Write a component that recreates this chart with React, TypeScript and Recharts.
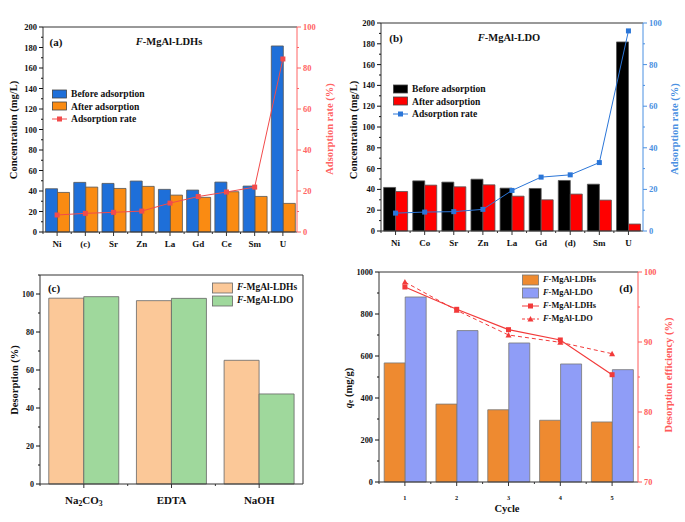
import {
  Bar,
  ComposedChart,
  Legend,
  Line,
  ReferenceLine,
  XAxis,
  YAxis,
} from "recharts";

const FONT = '"Liberation Serif", "Times New Roman", serif';

// (a) F-MgAl-LDHs
const elementsA = ["Ni", "(c)", "Sr", "Zn", "La", "Gd", "Ce", "Sm", "U"];
const ldhBefore = [42.2, 48.4, 47.4, 49.7, 41.6, 40.9, 48.7, 44.8, 181.5];
const ldhAfter = [38.6, 43.8, 42.5, 44.5, 36, 33.8, 39.3, 34.7, 27.9];
const ldhRate = [8.3, 9.1, 9.6, 10.2, 14.1, 17.3, 19.5, 21.9, 84.4];

// (b) F-MgAl-LDO
const elementsB = ["Ni", "Co", "Sr", "Zn", "La", "Gd", "(d)", "Sm", "U"];
const ldoBefore = [41.9, 48.2, 47, 49.8, 41.2, 40.9, 48.6, 45, 181.8];
const ldoAfter = [38, 44.1, 42.5, 44.4, 33.5, 30, 35.5, 29.7, 6.7];
const ldoRate = [8.6, 9.1, 9.3, 10.4, 19.5, 25.9, 27, 32.9, 96.2];

// (c) desorption agents
const agents = ["Na2CO3", "EDTA", "NaOH"];
const desLdh = [97.8, 96.5, 65.1];
const desLdo = [98.6, 97.7, 47.4];

// (d) cycles
const cycles = ["1", "2", "3", "4", "5"];
const qeLdh = [567, 371, 344, 294, 286];
const qeLdo = [881, 721, 662, 562, 535];
const effLdh = [97.86, 94.67, 91.76, 90.29, 85.33];
const effLdo = [98.57, 94.52, 91.0, 89.95, 88.33];

const ticksA = [0, 10, 20, 30, 40, 50, 60, 70, 80, 90, 100, 110, 120, 130, 140, 150, 160, 170, 180, 190, 200];
const ticksRate = [0, 10, 20, 30, 40, 50, 60, 70, 80, 90, 100];
const ticksC = [0, 10, 20, 30, 40, 50, 60, 70, 80, 90, 100, 110];
const ticksQe = [0, 100, 200, 300, 400, 500, 600, 700, 800, 900, 1000];
const ticksEff = [70, 75, 80, 85, 90, 95, 100];

const AXIS = "#333";

// numeric tick with major label + minor tick
const yTick =
  (side: "left" | "right", step: number, color: string, fs = 8.5) =>
  (p: any) => {
    const { x, y, payload } = p;
    const v = payload.value;
    const major = Math.abs(v / step - Math.round(v / step)) < 1e-6;
    const dir = side === "left" ? -1 : 1;
    return (
      <g>
        <line x1={x} y1={y} x2={x + dir * (major ? 4 : 2)} y2={y} stroke={color} />
        {major && (
          <text
            x={x + dir * 6}
            y={y}
            textAnchor={side === "left" ? "end" : "start"}
            dominantBaseline="central"
            fill={color}
            fontSize={fs}
            fontWeight="bold"
            fontFamily={FONT}
          >
            {v}
          </text>
        )}
      </g>
    );
  };

// render digits as subscripts (Na2CO3)
const chemText = (s: string) =>
  s.split(/(\d)/).filter(Boolean).map((part, i) =>
    /\d/.test(part) ? (
      <tspan key={i} dy={3} fontSize="0.7em">{part}</tspan>
    ) : (
      <tspan key={i} dy={i > 0 ? -3 : 0}>{part}</tspan>
    )
  );

const catTick =
  (half: number, dy: number, fs: number) =>
  (p: any) => {
    const { x, y, payload } = p;
    return (
      <g>
        <line x1={x} y1={y} x2={x} y2={y + 4} stroke={AXIS} />
        <line x1={x - half} y1={y} x2={x - half} y2={y + 2} stroke={AXIS} />
        <text
          x={x}
          y={y + dy}
          textAnchor="middle"
          dominantBaseline="central"
          fill="#111"
          fontSize={fs}
          fontWeight="bold"
          fontFamily={FONT}
        >
          {chemText(String(payload.value))}
        </text>
      </g>
    );
  };

const vTitle = (x: number, y: number, color: string, content: React.ReactNode) => () => (
  <text
    x={x}
    y={y}
    transform={`rotate(-90 ${x} ${y})`}
    textAnchor="middle"
    dominantBaseline="central"
    fill={color}
    fontSize={10.5}
    fontWeight="bold"
    fontFamily={FONT}
  >
    {content}
  </text>
);

const square = (fill: string) => (p: any) => (
  <rect key={p.index} x={p.cx - 2.5} y={p.cy - 2.5} width={5} height={5} fill={fill} />
);
const triangle = (fill: string) => (p: any) => (
  <path key={p.index} d={`M${p.cx},${p.cy - 3}L${p.cx + 3},${p.cy + 2.5}L${p.cx - 3},${p.cy + 2.5}Z`} fill={fill} />
);

type LegendItem = { label: React.ReactNode; kind: "bar" | "line"; color: string; stroke?: string; marker?: "square" | "triangle"; dashed?: boolean };

const LegendBox = ({ items, fs, rowH, sw, sh }: { items: LegendItem[]; fs: number; rowH: number; sw: number; sh: number }) => (
  <div style={{ fontFamily: FONT, fontWeight: "bold", fontSize: fs, color: "#111", lineHeight: 1 }}>
    {items.map((it, i) => (
      <div key={i} style={{ display: "flex", alignItems: "center", height: rowH }}>
        <svg width={sw} height={sh + 2} style={{ overflow: "visible" }}>
          {it.kind === "bar" ? (
            <rect x={0.5} y={1} width={sw - 1} height={sh} fill={it.color} stroke={it.stroke ?? "#444"} strokeWidth={0.8} />
          ) : (
            <g>
              <line x1={0} x2={sw} y1={sh / 2 + 1} y2={sh / 2 + 1} stroke={it.color} strokeDasharray={it.dashed ? "3 2" : undefined} />
              {it.marker === "triangle" ? (
                <path d={`M${sw / 2},${sh / 2 - 2}L${sw / 2 + 3},${sh / 2 + 3.5}L${sw / 2 - 3},${sh / 2 + 3.5}Z`} fill={it.color} />
              ) : (
                <rect x={sw / 2 - 2.5} y={sh / 2 - 1.5} width={5} height={5} fill={it.color} />
              )}
            </g>
          )}
        </svg>
        <span style={{ marginLeft: 4, whiteSpace: "nowrap" }}>{it.label}</span>
      </div>
    ))}
  </div>
);

const Tag = ({ x, y, children, fs = 11 }: { x: number; y: number; children: React.ReactNode; fs?: number }) => (
  <div
    style={{
      position: "absolute",
      left: x,
      top: y,
      transform: "translate(-50%, -50%)",
      fontFamily: FONT,
      fontWeight: "bold",
      fontSize: fs,
      color: "#111",
      whiteSpace: "nowrap",
      lineHeight: 1,
    }}
  >
    {children}
  </div>
);

const FName = ({ s }: { s: string }) => (
  <>
    <i>F</i>-MgAl-{s}
  </>
);

const AdsorptionPanel = ({
  left, width, cats, before, after, rate, beforeColor, afterColor, lineColor, axisColor, plotLeft, plotRight, top, bottom, tag, name, legendLeft, legendTop,
}: any) => {
  const data = cats.map((name: string, i: number) => ({ name, before: before[i], after: after[i], rate: rate[i] }));
  const half = (plotRight - plotLeft) / cats.length / 2;
  return (
    <div style={{ position: "absolute", left, top: 0, width, height: 260 }}>
      <ComposedChart
        width={width}
        height={260}
        data={data}
        margin={{ top, right: 0, bottom: 0, left: 0 }}
        barGap={0}
        barCategoryGap="9%"
      >
        <XAxis
          dataKey="name"
          height={260 - bottom}
          axisLine={{ stroke: AXIS }}
          tickLine={false}
          tickSize={0}
          tickMargin={0}
          interval={0}
          tick={catTick(half, 11.5, 9)}
        />
        <YAxis
          yAxisId="l"
          width={plotLeft}
          domain={[0, 200]}
          ticks={ticksA}
          interval={0}
          axisLine={{ stroke: AXIS }}
          tickLine={false}
          tickSize={0}
          tickMargin={0}
          tick={yTick("left", 20, "#111")}
          label={vTitle(13, 130, "#111", "Concentration (mg/L)")}
        />
        <YAxis
          yAxisId="r"
          orientation="right"
          width={width - plotRight}
          domain={[0, 100]}
          ticks={ticksRate}
          interval={0}
          axisLine={{ stroke: axisColor }}
          tickLine={false}
          tickSize={0}
          tickMargin={0}
          tick={yTick("right", 20, axisColor)}
          label={vTitle(width - 11, 129, axisColor, "Adsorption rate (%)")}
        />
        <ReferenceLine yAxisId="l" y={200} stroke={AXIS} />
        <Bar yAxisId="l" dataKey="before" fill={beforeColor} stroke="#555" strokeWidth={0.8} isAnimationActive={false} />
        <Bar yAxisId="l" dataKey="after" fill={afterColor} stroke="#555" strokeWidth={0.8} isAnimationActive={false} />
        <Line
          yAxisId="r"
          dataKey="rate"
          stroke={lineColor}
          strokeWidth={1}
          dot={square(lineColor)}
          activeDot={false}
          isAnimationActive={false}
        />
        <Legend
          layout="vertical"
          align="center"
          verticalAlign="middle"
          wrapperStyle={{ left: legendLeft, top: legendTop, width: 150 }}
          content={() => (
            <LegendBox
              fs={9.6}
              rowH={12.3}
              sw={15}
              sh={8}
              items={[
                { label: "Before adsorption", kind: "bar", color: beforeColor },
                { label: "After adsorption", kind: "bar", color: afterColor },
                { label: "Adsorption rate", kind: "line", color: lineColor },
              ]}
            />
          )}
        />
      </ComposedChart>
      <Tag x={56} y={top + 15}>{tag}</Tag>
      <Tag x={169} y={top + 15} fs={10.5}>
        <FName s={name} />
      </Tag>
    </div>
  );
};

const PanelC = () => {
  const data = agents.map((name, i) => ({ name, ldh: desLdh[i], ldo: desLdo[i] }));
  return (
    <div style={{ position: "absolute", left: 0, top: 260, width: 340, height: 262 }}>
      <ComposedChart width={340} height={262} data={data} margin={{ top: 15, right: 0, bottom: 0, left: 0 }} barGap={0} barCategoryGap="10%">
        <XAxis
          dataKey="name"
          height={38}
          axisLine={{ stroke: AXIS }}
          tickLine={false}
          tickSize={0}
          tickMargin={0}
          interval={0}
          tick={catTick(43.8, 16, 11)}
        />
        <YAxis
          yAxisId="l"
          width={40}
          domain={[0, 110]}
          ticks={ticksC}
          interval={0}
          axisLine={{ stroke: AXIS }}
          tickLine={false}
          tickSize={0}
          tickMargin={0}
          tick={yTick("left", 20, "#111", 8)}
          label={vTitle(14, 120, "#111", "Desorption (%)")}
        />
        <YAxis yAxisId="r" orientation="right" width={37} domain={[0, 110]} tick={false} tickLine={false} axisLine={{ stroke: AXIS }} />
        <ReferenceLine yAxisId="l" y={110} stroke={AXIS} />
        <Bar yAxisId="l" dataKey="ldh" fill="#FBC898" stroke="#666" strokeWidth={0.8} isAnimationActive={false} />
        <Bar yAxisId="l" dataKey="ldo" fill="#9FD89C" stroke="#666" strokeWidth={0.8} isAnimationActive={false} />
        <Legend
          layout="vertical"
          align="center"
          verticalAlign="middle"
          wrapperStyle={{ left: 212, top: 21, width: 100 }}
          content={() => (
            <LegendBox
              fs={9.5}
              rowH={13}
              sw={21}
              sh={10}
              items={[
                { label: <FName s="LDHs" />, kind: "bar", color: "#FBC898", stroke: "#666" },
                { label: <FName s="LDO" />, kind: "bar", color: "#9FD89C", stroke: "#666" },
              ]}
            />
          )}
        />
      </ComposedChart>
      <Tag x={54} y={28}>(c)</Tag>
    </div>
  );
};

const PanelD = () => {
  const data = cycles.map((name, i) => ({ name, ldh: qeLdh[i], ldo: qeLdo[i], effLdh: effLdh[i], effLdo: effLdo[i] }));
  const red = "#F23A3A";
  const redAxis = "#FF5A5A";
  return (
    <div style={{ position: "absolute", left: 340, top: 260, width: 345, height: 262 }}>
      <ComposedChart width={345} height={262} data={data} margin={{ top: 12, right: 0, bottom: 0, left: 0 }} barGap={0} barCategoryGap="10%">
        <XAxis
          dataKey="name"
          height={40}
          axisLine={{ stroke: AXIS }}
          tickLine={false}
          tickSize={0}
          tickMargin={0}
          interval={0}
          tick={catTick(25.9, 12, 9)}
          label={() => (
            <text x={167} y={248} textAnchor="middle" dominantBaseline="central" fontSize={10.5} fontWeight="bold" fontFamily={FONT} fill="#111">
              Cycle
            </text>
          )}
        />
        <YAxis
          yAxisId="l"
          width={39}
          domain={[0, 1000]}
          ticks={ticksQe}
          interval={0}
          axisLine={{ stroke: AXIS }}
          tickLine={false}
          tickSize={0}
          tickMargin={0}
          tick={yTick("left", 200, "#111", 8.3)}
          label={vTitle(8, 128, "#111", (
            <>
              <tspan fontStyle="italic">q</tspan>
              <tspan dy={2} fontSize="0.7em">e</tspan>
              <tspan dy={-2}> (mg/g)</tspan>
            </>
          ))}
        />
        <YAxis
          yAxisId="r"
          orientation="right"
          width={47}
          domain={[70, 100]}
          ticks={ticksEff}
          interval={0}
          axisLine={{ stroke: redAxis }}
          tickLine={false}
          tickSize={0}
          tickMargin={0}
          tick={yTick("right", 10, redAxis, 8.3)}
          label={vTitle(328, 115, redAxis, "Desorption efficiency (%)")}
        />
        <ReferenceLine yAxisId="l" y={1000} stroke={AXIS} />
        <Bar yAxisId="l" dataKey="ldh" fill="#EE8A30" stroke="#777" strokeWidth={0.8} isAnimationActive={false} />
        <Bar yAxisId="l" dataKey="ldo" fill="#8F9DF7" stroke="#777" strokeWidth={0.8} isAnimationActive={false} />
        <Line yAxisId="r" dataKey="effLdh" stroke={red} strokeWidth={1.2} dot={square(red)} activeDot={false} isAnimationActive={false} />
        <Line
          yAxisId="r"
          dataKey="effLdo"
          stroke={red}
          strokeWidth={1}
          strokeDasharray="4 3"
          dot={triangle(red)}
          activeDot={false}
          isAnimationActive={false}
        />
        <Legend
          layout="vertical"
          align="center"
          verticalAlign="middle"
          wrapperStyle={{ left: 182, top: 13.5, width: 100 }}
          content={() => (
            <LegendBox
              fs={8.4}
              rowH={13}
              sw={17}
              sh={10}
              items={[
                { label: <FName s="LDHs" />, kind: "bar", color: "#EE8A30", stroke: "#777" },
                { label: <FName s="LDO" />, kind: "bar", color: "#8F9DF7", stroke: "#777" },
                { label: <FName s="LDHs" />, kind: "line", color: red, marker: "square" },
                { label: <FName s="LDO" />, kind: "line", color: red, marker: "triangle", dashed: true },
              ]}
            />
          )}
        />
      </ComposedChart>
      <Tag x={286} y={28}>(d)</Tag>
    </div>
  );
};

export default function App() {
  return (
    <div style={{ position: "absolute", left: 0, top: 0, width: 685, height: 522, background: "#fff" }}>
      <AdsorptionPanel
        left={0}
        width={340}
        cats={elementsA}
        before={ldhBefore}
        after={ldhAfter}
        rate={ldhRate}
        beforeColor="#1E6FD9"
        afterColor="#FA8B12"
        lineColor="#F24B4B"
        axisColor="#FF6464"
        plotLeft={43}
        plotRight={297}
        top={27}
        bottom={232}
        tag="(a)"
        name="LDHs"
        legendLeft={52}
        legendTop={88}
      />
      <AdsorptionPanel
        left={340}
        width={345}
        cats={elementsB}
        before={ldoBefore}
        after={ldoAfter}
        rate={ldoRate}
        beforeColor="#000000"
        afterColor="#FF0000"
        lineColor="#2B76D8"
        axisColor="#4A90E2"
        plotLeft={41}
        plotRight={303}
        top={23}
        bottom={231}
        tag="(b)"
        name="LDO"
        legendLeft={53}
        legendTop={83}
      />
      <PanelC />
      <PanelD />
    </div>
  );
}
